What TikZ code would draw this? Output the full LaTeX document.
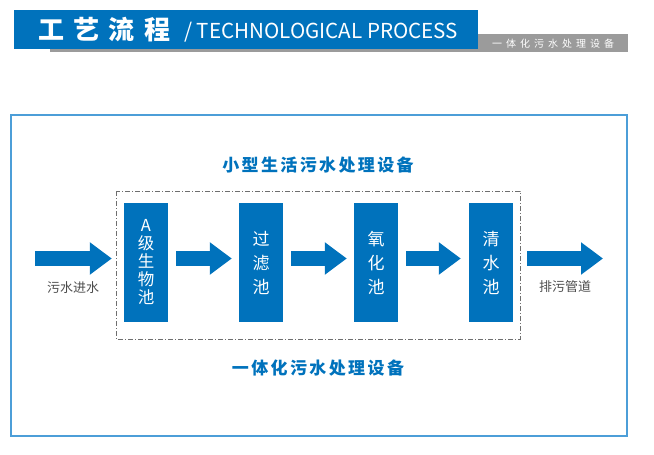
\documentclass[tikz,border=0pt]{standalone}
\usepackage{fontspec}
\setmainfont{Noto Sans CJK SC}
\newfontfamily\cjk{Noto Sans CJK SC}
\usetikzlibrary{arrows.meta}
\definecolor{mainblue}{HTML}{0072BC}
\definecolor{lineblue}{HTML}{4C9ED8}
\definecolor{hgray}{HTML}{9B9B9B}
\definecolor{dgray}{HTML}{6E6E6E}
\definecolor{tgray}{HTML}{4D4D4D}
\tikzset{
  tank/.style={fill=mainblue, minimum width=44pt, minimum height=119pt, inner sep=0pt, text=white, font=\cjk\fontsize{16.5}{18}\selectfont, align=center},
  blockarrow/.style={draw=mainblue, line width=15pt, -{Triangle[length=22pt,width=31pt]}},
  lbl/.style={text=tgray, font=\cjk\fontsize{13}{15}\selectfont, inner sep=0pt},
  heading/.style={text=mainblue, font=\cjk\bfseries\fontsize{17}{19}\selectfont\addfontfeature{LetterSpace=14}, inner sep=0pt}
}
\begin{document}
\begin{tikzpicture}[x=1pt,y=-1pt]
\useasboundingbox (0,0) rectangle (654,455);
% header
\fill[hgray] (50,34) rectangle (628,52);
\fill[mainblue] (14,10) rectangle (478,48.5);
\node[text=white, font=\cjk\bfseries\fontsize{26}{28}\selectfont\addfontfeature{LetterSpace=36}, anchor=west, inner sep=0pt] (t1) at (38,30) {工艺流程};
\node[text=white, font=\cjk\fontsize{20.6}{22}\selectfont, anchor=west, inner sep=0pt] (t2) at (184,32) {/ TECHNOLOGICAL PROCESS};
\node[text=white, font=\cjk\fontsize{10}{12}\selectfont\addfontfeature{LetterSpace=40}, anchor=west, inner sep=0pt] (t3) at (492,44) {一体化污水处理设备};
% outer frame
\draw[lineblue, line width=1.2pt] (11,115) rectangle (627,436);
\node[heading] (top) at (318,165) {小型生活污水处理设备};
\draw[dgray, line width=0.9pt, dash pattern=on 5pt off 2pt on 1pt off 2pt] (116,191) rectangle (520,339);
% tanks
\node[tank] (a) at (146,262.5) {A\\级\\生\\物\\池};
\node[tank, font=\cjk\fontsize{17}{24}\selectfont] (b) at (261,262.5) {过\\滤\\池};
\node[tank, font=\cjk\fontsize{17}{24}\selectfont] (c) at (376,262.5) {氧\\化\\池};
\node[tank, font=\cjk\fontsize{17}{24}\selectfont] (d) at (491,262.5) {清\\水\\池};
\coordinate (in) at (35,258.5);
\coordinate (out) at (603,258.5);
\draw[blockarrow] (in) -- ([xshift=-12pt,yshift=4pt]a.west);
\draw[blockarrow] ([xshift=8pt,yshift=4pt]a.east) -- ([xshift=-7pt,yshift=4pt]b.west);
\draw[blockarrow] ([xshift=8pt,yshift=4pt]b.east) -- ([xshift=-7pt,yshift=4pt]c.west);
\draw[blockarrow] ([xshift=8pt,yshift=4pt]c.east) -- ([xshift=-8pt,yshift=4pt]d.west);
\draw[blockarrow] ([xshift=14pt,yshift=4pt]d.east) -- (out);
\node[lbl] (l1) at (73,288) {污水进水};
\node[lbl] (l2) at (565,287) {排污管道};
\node[heading] (bot) at (318,368) {一体化污水处理设备};
\end{tikzpicture}
\end{document}
